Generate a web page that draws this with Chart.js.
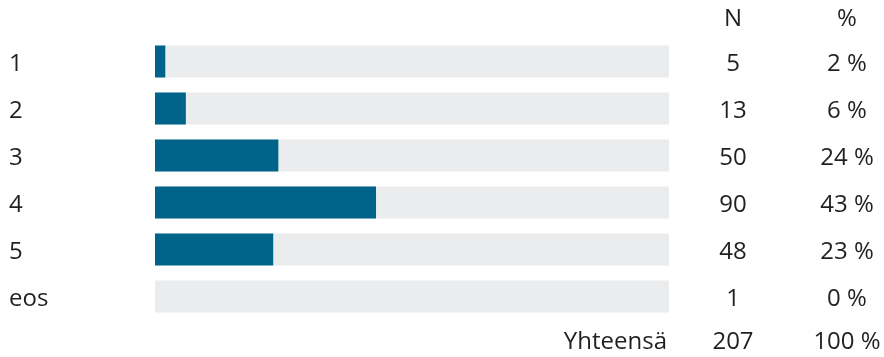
<!DOCTYPE html>
<html>
<head>
<meta charset="utf-8">
<script src="https://cdn.jsdelivr.net/npm/chart.js@4"></script>
<style>
    html, body { margin: 0; padding: 0; background: #fff; }
    #wrap { width: 884px; height: 357px; }
</style>
</head>
<body>
<div id="wrap"><canvas id="answerChart"></canvas></div>
<script>
const categories = ['1', '2', '3', '4', '5', 'eos'];
const counts = [5, 13, 50, 90, 48, 1];
const percents = [2, 6, 24, 43, 23, 0];
const trackValues = [100, 100, 100, 100, 100, 100];
const totalLabel = 'Yhteensä';
const totalCount = 207;
const totalPercent = 100;

const textColor = '#231f20';
const barColor = '#00648a';
const trackColor = '#ebecee';
const fontSize = 24;

Chart.defaults.font.family = "'Open Sans', sans-serif";
Chart.defaults.font.size = fontSize;
Chart.defaults.color = textColor;

// N and % columns, header and total row
const tablePlugin = {
    id: 'tableColumns',
    afterDraw(chart) {
        const ctx = chart.ctx;
        const y = chart.scales.y;
        const nX = 733, pX = 847;
        ctx.save();
        ctx.fillStyle = textColor;
        ctx.font = fontSize + "px 'Open Sans', sans-serif";
        ctx.textBaseline = 'middle';
        ctx.textAlign = 'center';
        ctx.fillText('N', nX, 19);
        ctx.fillText('%', pX, 19);
        categories.forEach((c, i) => {
            const py = y.getPixelForValue(i) + 3;
            ctx.fillText(String(counts[i]), nX, py);
            ctx.fillText(percents[i] + ' %', pX, py);
        });
        ctx.fillText(String(totalCount), nX, 342);
        ctx.fillText(totalPercent + ' %', pX, 342);
        ctx.textAlign = 'right';
        ctx.fillText(totalLabel, 667, 342);
        ctx.restore();
    }
};

new Chart(document.getElementById('answerChart').getContext('2d'), {
    type: 'bar',
    data: {
        labels: categories,
        datasets: [
            { label: '%', data: percents, backgroundColor: barColor, barThickness: 32, inflateAmount: 0, grouped: false, order: 0 },
            { label: 'track', data: trackValues, backgroundColor: trackColor, barThickness: 32, inflateAmount: 0, grouped: false, order: 1 }
        ]
    },
    options: {
        indexAxis: 'y',
        responsive: true, maintainAspectRatio: false, animation: false,
        layout: { padding: { left: 9, right: 215, top: 38, bottom: 37 } },
        plugins: { legend: { display: false }, tooltip: { enabled: false } },
        scales: {
            x: { display: false, min: 0, max: 100, grid: { display: false } },
            y: {
                grid: { display: false }, border: { display: false },
                ticks: { crossAlign: 'far', color: textColor, padding: 0, labelOffset: 3 },
                afterFit: (scale) => { scale.width = 146; }
            }
        }
    },
    plugins: [tablePlugin]
});
</script>
</body>
</html>
